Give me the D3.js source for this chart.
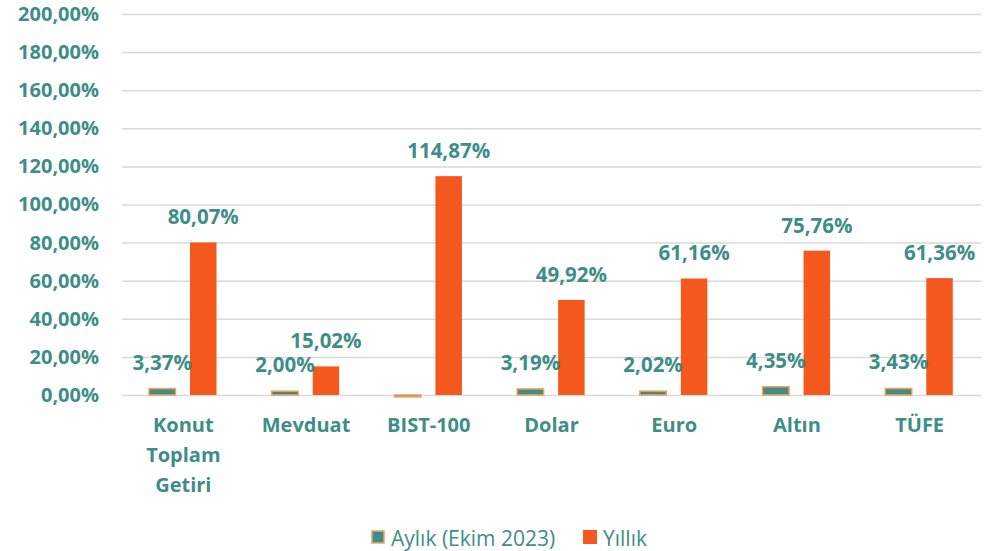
<!DOCTYPE html>
<html>
<head>
<meta charset="utf-8">
<script src="https://cdn.jsdelivr.net/npm/d3@7"></script>
<style>
  body { margin: 0; background: #fff; }
  text { font-family: "Open Sans", sans-serif; }
</style>
</head>
<body>
<svg width="986" height="551"></svg>
<script>
var categories = [["Konut", "Toplam", "Getiri"], ["Mevduat"], ["BIST-100"], ["Dolar"], ["Euro"], ["Altın"], ["TÜFE"]];
var monthly = [3.37, 2.00, -1.0, 3.19, 2.02, 4.35, 3.43];
var monthlyLabels = ["3,37%", "2,00%", "", "3,19%", "2,02%", "4,35%", "3,43%"];
var yearly = [80.07, 15.02, 114.87, 49.92, 61.16, 75.76, 61.36];
var yearlyLabels = ["80,07%", "15,02%", "114,87%", "49,92%", "61,16%", "75,76%", "61,36%"];
var yTicks = [0, 20, 40, 60, 80, 100, 120, 140, 160, 180, 200];
var seriesNames = ["Aylık (Ekim 2023)", "Yıllık"];

var teal = "#3e8e87";
var orange = "#f4581d";

var svg = d3.select('svg');
var plotLeft = 122, plotRight = 981, plotTop = 14, plotBottom = 395;

var x = d3.scaleBand().domain(d3.range(categories.length)).range([plotLeft, plotRight]);
var y = d3.scaleLinear().domain([0, 200]).range([plotBottom, plotTop]);

// grid lines + y labels
var yAxis = d3.axisLeft(y).tickValues(yTicks).tickSize(-(plotRight - plotLeft))
  .tickFormat(function(d) { return d3.format(".2f")(d).replace(".", ",") + "%"; })
  .tickPadding(23);
var ga = svg.append('g').attr('transform', 'translate(' + plotLeft + ',0)').call(yAxis);
ga.select('.domain').remove();
ga.selectAll('.tick line').attr('stroke', '#d9d9d9').attr('stroke-width', 1.5);
ga.selectAll('.tick text').attr('fill', teal).style('font-size', '20px').style('font-weight', 'bold')
  .style('font-family', '"Open Sans", sans-serif');

var bw = 26.5;
var step = x.bandwidth();
var off1 = 27, off2 = 27 + bw + 14.5;

// monthly bars
svg.append('g').selectAll('rect').data(monthly).enter().append('rect')
  .attr('x', function(d, i) { return x(i) + off1; })
  .attr('y', function(d) { return y(Math.max(0, d)); })
  .attr('width', bw)
  .attr('height', function(d) { return Math.abs(y(d) - y(0)); })
  .attr('fill', teal)
  .attr('stroke', '#f5a05c')
  .attr('stroke-width', 1.5);

// yearly bars
svg.append('g').selectAll('rect').data(yearly).enter().append('rect')
  .attr('x', function(d, i) { return x(i) + off2; })
  .attr('y', function(d) { return y(d); })
  .attr('width', bw)
  .attr('height', function(d) { return y(0) - y(d); })
  .attr('fill', orange);

// labels
svg.append('g').selectAll('text').data(monthly).enter().append('text')
  .attr('x', function(d, i) { return x(i) + off1 + bw / 2; })
  .attr('y', function(d) { return y(Math.max(0, d)) - 19; })
  .attr('text-anchor', 'middle').attr('fill', teal)
  .style('font-size', '20.5px').style('font-weight', 'bold')
  .text(function(d, i) { return monthlyLabels[i]; });

svg.append('g').selectAll('text').data(yearly).enter().append('text')
  .attr('x', function(d, i) { return x(i) + off2 + bw / 2; })
  .attr('y', function(d) { return y(d) - 18; })
  .attr('text-anchor', 'middle').attr('fill', teal)
  .style('font-size', '20.5px').style('font-weight', 'bold')
  .text(function(d, i) { return yearlyLabels[i]; });

// category labels
var cat = svg.append('g').selectAll('text').data(categories).enter().append('text')
  .attr('x', function(d, i) { return x(i) + step / 2; })
  .attr('y', 432)
  .attr('text-anchor', 'middle').attr('fill', teal)
  .style('font-size', '20px').style('font-weight', 'bold');
cat.selectAll('tspan').data(function(d) { return d; }).enter().append('tspan')
  .attr('x', function() { return d3.select(this.parentNode).attr('x'); })
  .attr('dy', function(d, i) { return i === 0 ? 0 : 30; })
  .text(function(d) { return d; });

// legend
var lg = svg.append('g');
lg.append('rect').attr('x', 372).attr('y', 531).attr('width', 12).attr('height', 12)
  .attr('fill', teal).attr('stroke', '#f5a05c').attr('stroke-width', 1.5);
lg.append('text').attr('x', 391).attr('y', 546).attr('fill', teal).style('font-size', '21px')
  .text(seriesNames[0]);
lg.append('rect').attr('x', 583).attr('y', 530).attr('width', 14).attr('height', 14).attr('fill', orange);
lg.append('text').attr('x', 603).attr('y', 546).attr('fill', teal).style('font-size', '21px')
  .text(seriesNames[1]);
</script>
</body>
</html>
